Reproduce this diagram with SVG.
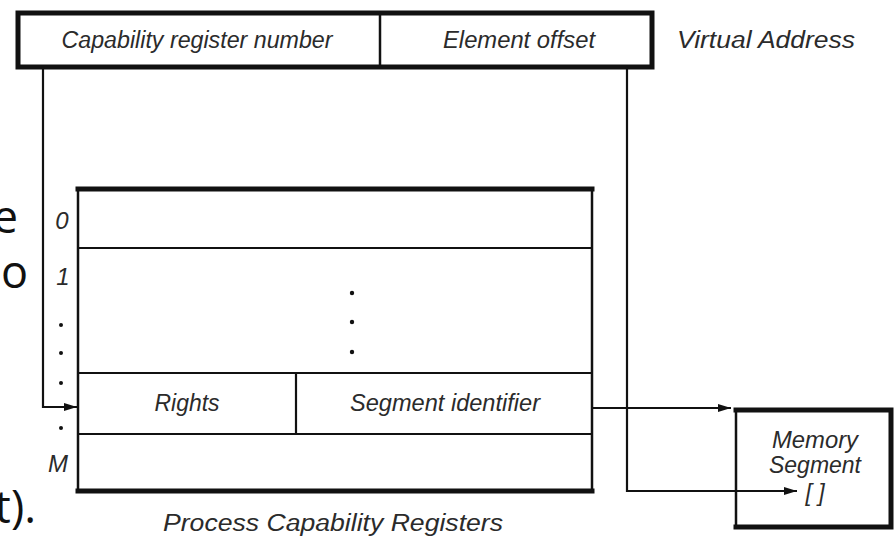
<svg xmlns="http://www.w3.org/2000/svg" width="894" height="538" viewBox="0 0 894 538">
  <style>
    .lbl { font-family: "Liberation Sans", Arial, sans-serif; font-style: italic; font-size: 23px; fill: #2b2b2b; }
    .idx { font-size: 24px; }
    .mid { text-anchor: middle; }
    .frag { font-family: "Open Sans", "Liberation Sans", sans-serif; font-size: 45px; fill: #111; text-anchor: end; }
    .thick { stroke: #111; stroke-width: 5; fill: none; stroke-linecap: square; }
    .thin { stroke: #111; stroke-width: 2.5; fill: none; }
    .wire { stroke: #111; stroke-width: 2.2; fill: none; }
    .dot { fill: #111; }
  </style>
  <defs>
    <marker id="arrow" markerUnits="userSpaceOnUse" markerWidth="14" markerHeight="10" refX="13" refY="5" orient="auto">
      <path d="M0,1 L13,5 L0,9 Z" fill="#111"/>
    </marker>
  </defs>
  <rect width="894" height="538" fill="#fff"/>

  <!-- slide text running in from the left margin -->
  <g id="margin-text">
    <text class="frag" x="18" y="233">e</text>
    <text class="frag" x="28" y="288">o</text>
    <text class="frag" x="36" y="523">t).</text>
  </g>

  <!-- virtual address word -->
  <g id="virtual-address">
    <rect class="thin" x="18" y="13" width="634" height="54"/>
    <path class="thick" d="M18,13 H652 M18,67 H652 M18,13 V67 M652,13 V67"/>
    <line class="thin" x1="380" y1="13" x2="380" y2="67"/>
    <text class="lbl mid" x="197" y="48" textLength="271" lengthAdjust="spacingAndGlyphs">Capability register number</text>
    <text class="lbl mid" x="519" y="48" textLength="152" lengthAdjust="spacingAndGlyphs">Element offset</text>
    <text class="lbl mid" x="766" y="48" textLength="178" lengthAdjust="spacingAndGlyphs">Virtual Address</text>
  </g>

  <!-- process capability registers table -->
  <g id="capability-registers">
    <rect class="thin" x="78" y="189" width="514" height="302"/>
    <path class="thick" d="M78,189 H592 M78,491 H592"/>
    <path class="wire" d="M78,248 H592 M78,373 H592 M78,434 H592 M296,373 V434"/>
    <circle class="dot" cx="352" cy="293" r="2.2"/>
    <circle class="dot" cx="352" cy="322" r="2.2"/>
    <circle class="dot" cx="352" cy="352" r="2.2"/>
    <text class="lbl mid" x="187" y="411" textLength="65" lengthAdjust="spacingAndGlyphs">Rights</text>
    <text class="lbl mid" x="445" y="411" textLength="190" lengthAdjust="spacingAndGlyphs">Segment identifier</text>
    <!-- row indices -->
    <text class="lbl idx mid" x="62" y="229">0</text>
    <text class="lbl idx mid" x="63" y="285">1</text>
    <circle class="dot" cx="61" cy="325" r="2"/>
    <circle class="dot" cx="61" cy="353" r="2"/>
    <circle class="dot" cx="61" cy="383" r="2"/>
    <circle class="dot" cx="61" cy="428" r="2"/>
    <text class="lbl idx mid" x="58" y="472">M</text>
    <text class="lbl mid" x="333" y="531" textLength="340" lengthAdjust="spacingAndGlyphs">Process Capability Registers</text>
  </g>

  <!-- memory segment -->
  <g id="memory-segment">
    <rect class="thin" x="736" y="410" width="155" height="117"/>
    <path class="thick" d="M736,410 H891 M736,527 H891 M891,410 V527"/>
    <text class="lbl mid" x="815" y="448" textLength="86" lengthAdjust="spacingAndGlyphs">Memory</text>
    <text class="lbl mid" x="815" y="473" textLength="92" lengthAdjust="spacingAndGlyphs">Segment</text>
    <text class="lbl mid" x="815" y="501">[ ]</text>
  </g>

  <!-- connectors -->
  <g id="connectors">
    <path class="wire" d="M43,67 V407 H77" marker-end="url(#arrow)"/>
    <path class="wire" d="M592,408 H731" marker-end="url(#arrow)"/>
    <path class="wire" d="M627,67 V491 H797" marker-end="url(#arrow)"/>
  </g>
</svg>
